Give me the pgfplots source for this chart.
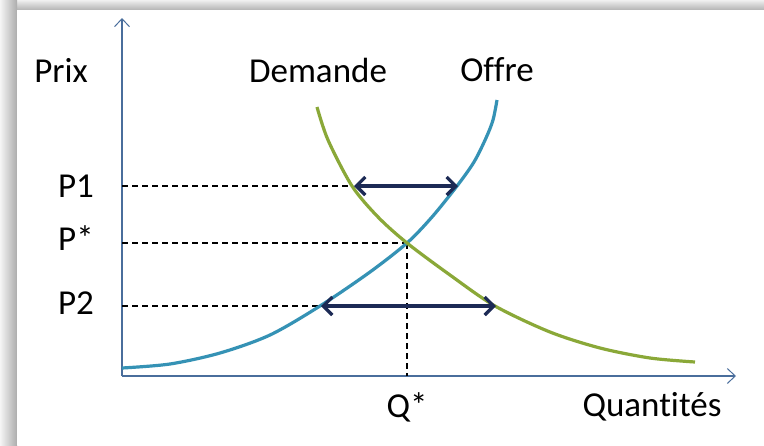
\documentclass[border=0pt]{standalone}
\usepackage{pgfplots}
\pgfplotsset{compat=1.18}
\usetikzlibrary{arrows.meta}
\usepackage{fontspec}
\setmainfont[Ligatures=NoCommon]{Carlito}
\definecolor{supply}{HTML}{3592B5}
\definecolor{demand}{HTML}{8AA838}
\definecolor{axisc}{HTML}{4A6E9C}
\definecolor{arrc}{HTML}{1C2A55}
\begin{document}
\begin{tikzpicture}
\begin{axis}[
  width=764pt, height=445pt, scale only axis,
  xmin=0, xmax=764, ymin=0, ymax=445, y dir=reverse,
  axis lines=none, clip=false,
]
% frame shadow
\fill[top color=gray!12, bottom color=gray!60] (axis cs:0,0) rectangle (axis cs:764,10);
\fill[left color=gray!8, right color=gray!65] (axis cs:0,0) rectangle (axis cs:17,445);
\fill[white] (axis cs:17,10) rectangle (axis cs:764,445);
% axes
\draw[axisc, line width=1.6pt, -{Straight Barb[length=8pt,width=15pt,line width=1pt]}] (axis cs:122,376) -- (axis cs:122,18);
\draw[axisc, line width=1.6pt, -{Straight Barb[length=8pt,width=15pt,line width=1pt]}] (axis cs:122,376) -- (axis cs:736,376);
% dashed guides
\addplot[black, line width=1.8pt, dash pattern=on 6pt off 4pt] coordinates {(122,186) (353,186)};
\addplot[black, line width=1.8pt, dash pattern=on 6pt off 4pt] coordinates {(122,243) (407,243)};
\addplot[black, line width=1.8pt, dash pattern=on 6pt off 4pt] coordinates {(122,306) (320,306)};
\addplot[black, line width=1.8pt, dash pattern=on 6pt off 4pt] coordinates {(407,243) (407,376)};
% supply
\addplot[supply, line width=3.2pt, smooth, tension=0.5] coordinates {
 (122,368) (170,364) (220,353) (270,335) (320,306) (370,272) (407,243) (432,217) (457,186) (474,162) (486,138) (493,120) (497,100)};
% demand
\addplot[demand, line width=3.2pt, smooth, tension=0.5] coordinates {
 (317,107) (328,140) (352,186) (378,217) (407,243) (450,275) (495,306) (550,332) (600,348) (650,358) (695,362)};
% double arrows
\addplot[arrc, line width=3.2pt, {Straight Barb[length=9pt,width=18pt]}-{Straight Barb[length=9pt,width=18pt]}] coordinates {(354,186) (458,186)};
\addplot[arrc, line width=3.2pt, {Straight Barb[length=9pt,width=18pt]}-{Straight Barb[length=9pt,width=18pt]}] coordinates {(321,306) (496,306)};
% labels
\node[font=\fontsize{35}{40}\selectfont] at (axis cs:61,70) {Prix};
\node[font=\fontsize{35}{40}\selectfont] at (axis cs:318,70) {Demande};
\node[font=\fontsize{35}{40}\selectfont] at (axis cs:497,70) {Offre};
\node[font=\fontsize{35}{40}\selectfont] at (axis cs:76,186) {P1};
\node[font=\fontsize{35}{40}\selectfont] at (axis cs:76,238) {P*};
\node[font=\fontsize{35}{40}\selectfont] at (axis cs:76,303) {P2};
\node[font=\fontsize{35}{40}\selectfont] at (axis cs:407,407) {Q*};
\node[font=\fontsize{35}{40}\selectfont] at (axis cs:652,407) {Quantités};
\end{axis}
\end{tikzpicture}
\end{document}
